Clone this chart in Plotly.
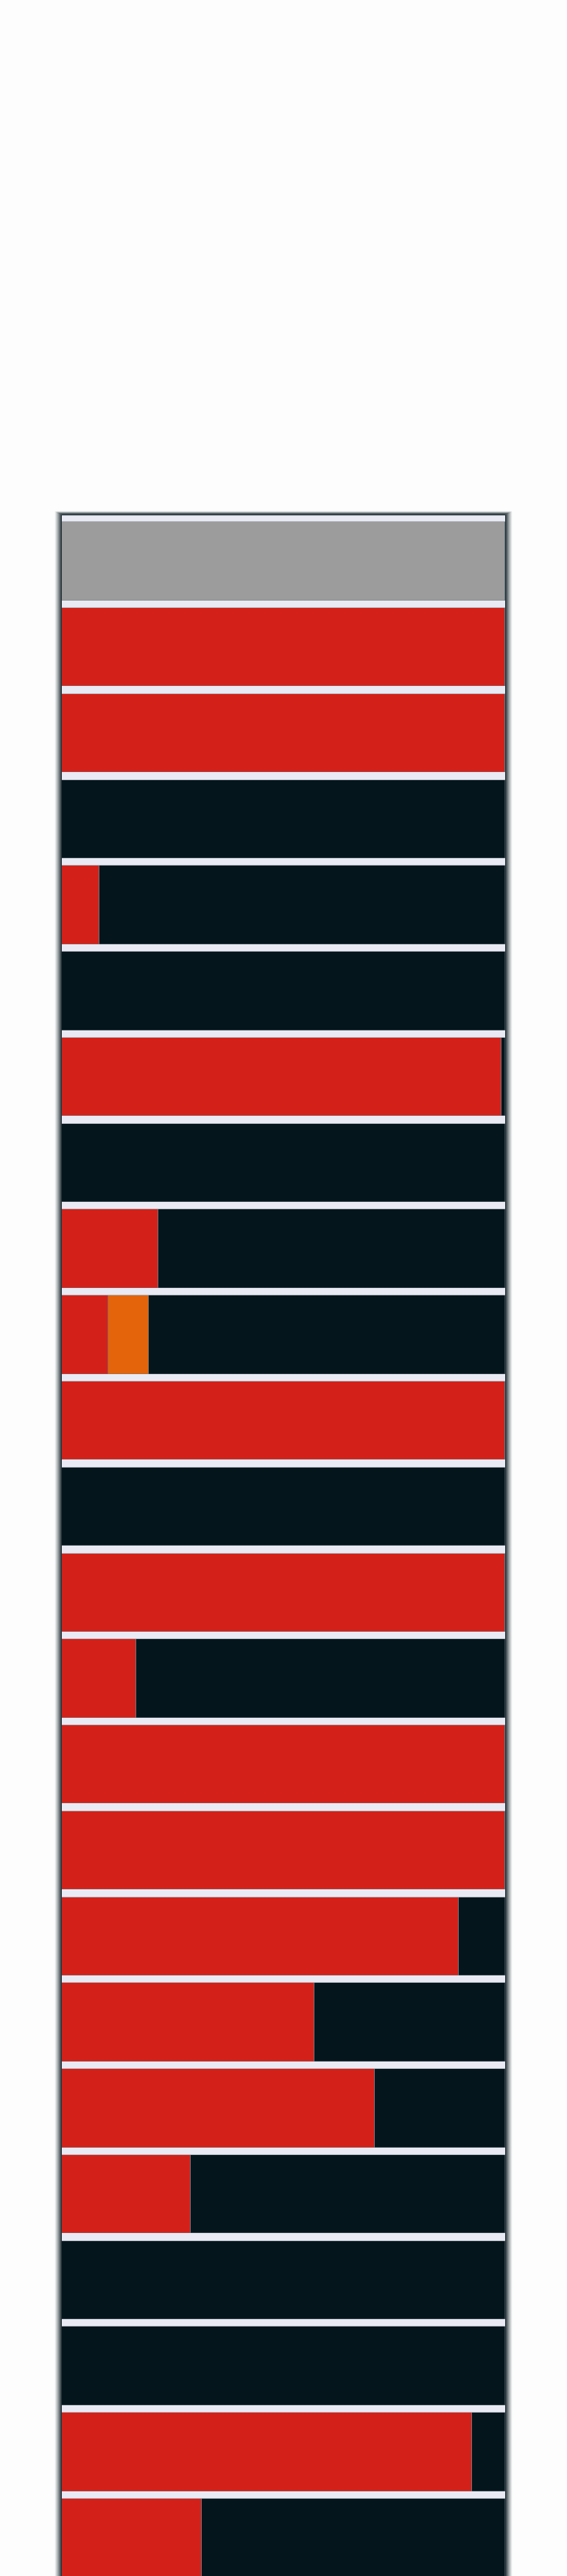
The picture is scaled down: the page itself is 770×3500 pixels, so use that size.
import plotly.graph_objects as go

# ---- data (percent of each row) ----
rows = list(range(24))
no_data = [100] + [0] * 23
red_share = [0, 100, 100, 0, 8.4, 0, 99.1, 0, 21.7, 10.5, 100, 0, 100, 16.8,
             100, 100, 89.5, 56.9, 70.6, 29.0, 0, 0, 92.5, 31.5]
orange_share = [0, 0, 0, 0, 0, 0, 0, 0, 0, 9.1, 0, 0, 0, 0,
                0, 0, 0, 0, 0, 0, 0, 0, 0, 0]
dark_share = [0 if i == 0 else round(100 - r - o, 2)
              for i, (r, o) in enumerate(zip(red_share, orange_share))]

RED = "#d32119"
ORANGE = "#e3640a"
DARK = "#05151c"
GRAY = "#9c9c9c"
STRIP = "#e9eaf3"
EDGE = "rgba(110,122,132,0.55)"

fig = go.Figure()
for vals, col in [(no_data, GRAY), (red_share, RED), (orange_share, ORANGE), (dark_share, DARK)]:
    fig.add_trace(go.Bar(
        y=rows, x=vals, orientation="h", width=0.911,
        marker=dict(color=col, line=dict(color=EDGE, width=0.8)),
        hoverinfo="skip", showlegend=False,
    ))

W, H = 770, 3500
L, R, T, B = 84, 84, 700, 0
pw, ph = W - L - R, H - T - B

shapes = []
for d in range(1, 11):
    a = 0.97 * (1 - (d - 0.5) / 10) ** 1.2
    dx = (d - 0.5) / pw
    dy = (d - 0.5) * 0.55 / ph
    path = f"M {-dx},-0.01 L {-dx},{1 + dy} L {1 + dx},{1 + dy} L {1 + dx},-0.01"
    shapes.append(dict(
        type="path", xref="paper", yref="paper", path=path,
        line=dict(color=f"rgba(16,32,38,{a:.3f})", width=1),
        fillcolor="rgba(0,0,0,0)", layer="below",
    ))

fig.update_layout(
    width=W, height=H,
    margin=dict(l=L, r=R, t=T, b=B, pad=0),
    barmode="stack",
    bargap=0,
    paper_bgcolor="#fdfdfd",
    plot_bgcolor=STRIP,
    xaxis=dict(range=[0, 100], visible=False, fixedrange=True),
    yaxis=dict(range=[23.444, -0.535], visible=False, fixedrange=True),
    shapes=shapes,
)

fig.write_html(
    "out.html",
    config={"displayModeBar": False},
    post_script="document.body.style.margin='0';document.body.style.overflow='hidden';",
)
